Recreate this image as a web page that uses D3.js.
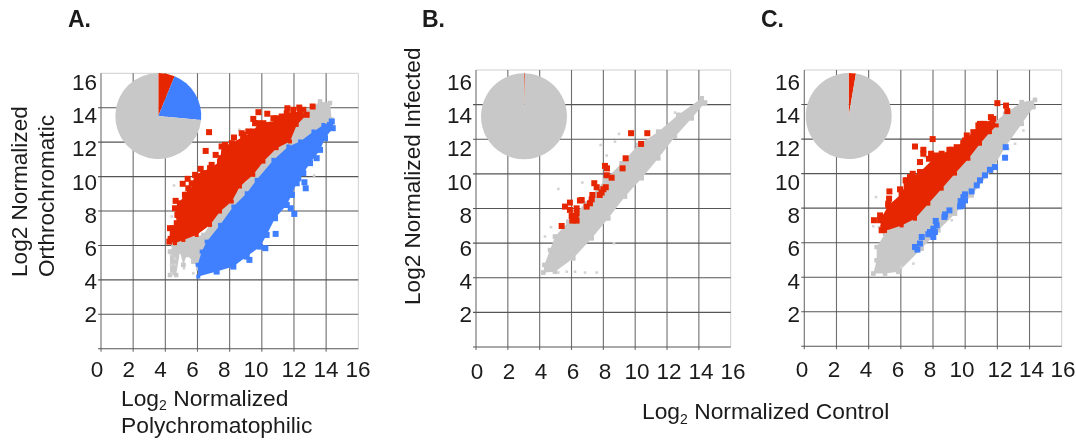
<!DOCTYPE html>
<html>
<head>
<meta charset="utf-8">
<script src="https://d3js.org/d3.v7.min.js"></script>
<style>
  html, body { margin: 0; padding: 0; background: #fff; }
  svg { display: block; }
  text { font-family: "Liberation Sans", Arial, sans-serif; fill: #1a1a1a; }
</style>
</head>
<body>
<svg width="1076" height="440"></svg>
<script>
var ticks = [0, 2, 4, 6, 8, 10, 12, 14, 16];
var yTickLabels = [2, 4, 6, 8, 10, 12, 14, 16];

// pie shares: red, blue, gray
var pieA = [6.2, 20.3, 73.5];
var pieB = [0.3, 0, 99.7];
var pieC = [2.7, 0, 97.3];

// outlines of the dense clouds as [x, y]
var grayCloudA = [[4.5,6.03],[5.12,6.42],[6.36,6.61],[7.4,8.16],[8.85,9.52],[9.89,10.58],[10.93,11.84],[11.96,13],[12.79,13.78],[13.62,14.36],[14.24,14.27],[14.35,13.3],[13.21,12.52],[12.38,11.84],[10.93,10.87],[9.47,8.84],[7.82,7.1],[6.36,5.64],[6.05,4.67],[5.74,5.06],[5.33,5.45],[5.12,4.87],[4.91,5.64],[4.67,4.28],[4.29,4.28],[4.29,5.64]];
var redCloudA = [[4.25,6.22],[4.29,7],[4.71,7.29],[4.6,8.16],[5.22,8.94],[5.53,9.13],[5.85,10.1],[6.78,10.49],[7.4,10.87],[7.5,11.75],[8.13,11.94],[8.85,12.33],[9.47,12.62],[9.78,13.1],[10.92,13.24],[11.55,13.68],[12.38,13.78],[12.79,13.59],[12.17,13],[11.75,12.04],[10.92,11.65],[10.1,10.87],[9.47,10.1],[8.64,9.42],[8.13,8.55],[7.4,7.97],[6.78,7.19],[5.95,6.61],[5.12,6.32],[4.6,6.13]];
var blueCloudA = [[6.05,4.19],[6.01,4.87],[6.26,5.64],[6.57,6.22],[7.4,7.19],[8.23,8.26],[9.06,9.03],[9.68,9.81],[10.72,10.97],[11.65,11.75],[12.38,12.04],[13.21,12.62],[13.83,13],[14.35,13.2],[14.41,12.81],[13.93,12.23],[13.62,11.55],[13,10.78],[12.58,10.2],[12.17,9.61],[11.86,8.94],[11.55,8.35],[10.82,7.58],[10.3,6.61],[9.89,5.93],[9.06,5.35],[8.23,4.77],[7.19,4.48]];
var grayCloudB = [[4.23,4.3],[4.29,4.74],[4.65,5.6],[4.96,6.38],[5.8,7.24],[6.85,8.3],[8.1,9.65],[9.15,10.61],[10.2,11.67],[11.45,12.44],[12.71,13.41],[14.18,14.37],[14.39,14.12],[13.55,13.21],[12.5,12.15],[11.45,10.9],[10.41,9.75],[9.36,8.69],[8.31,7.43],[7.27,6.28],[6.11,5.12],[4.96,4.35]];
var grayCloudC = [[4.29,4.21],[4.5,4.98],[4.5,5.75],[5.02,6.52],[5.85,7.49],[7.5,8.45],[8.75,9.61],[9.99,10.96],[11.44,12.69],[12.48,13.46],[13.51,14.14],[14.34,14.27],[14.24,13.85],[13.51,12.88],[12.48,11.53],[11.65,10.19],[10.4,8.74],[9.37,7.68],[8.33,6.72],[7.3,5.66],[5.85,4.31],[5.02,4.21]];
var redCloudC = [[4.81,6.72],[4.71,7.3],[5.22,8.16],[6.05,8.84],[6.36,9.61],[7.19,10.09],[8.23,11.05],[9.16,11.38],[9.99,11.92],[10.82,12.79],[11.75,13.17],[11.96,12.79],[11.54,12.4],[10.92,11.73],[10.2,10.86],[9.37,10],[8.54,9.13],[7.71,8.26],[6.88,7.39],[6.05,7],[5.02,6.68]];

// separate genes outside the clouds
var redPointsA = [[6.72,12.58],[6.51,11.49],[6.2,10.45],[7.13,11.26],[7.46,11.07],[6.88,10.68],[8.27,12.27],[9.79,13.74],[10.34,13.65],[9.47,13.35],[11.59,13.97],[12.33,14.01],[13.16,14.07],[5.39,9.87],[5.08,9.58],[5.64,9.61],[4.64,8.59],[5.33,8.94],[4.75,7.77],[4.46,7],[4.33,6.38],[9.58,13.1],[9.89,13],[11.96,13.88],[6.36,9.52],[5.95,10],[7.71,11.65],[8.85,12.42],[10.93,13.39],[8.75,12.52],[9.16,12.62],[10.1,13.1],[10.72,13.39],[11.24,13.49],[11.96,13.59],[12.58,13.88],[7.71,11.84],[6.36,10.2],[5.43,9.32],[4.91,8.45],[4.5,6.9]];
var bluePointsA = [[10.86,6.67],[10.22,5.84],[12.02,7.83],[11.8,8.16],[12.65,9.67],[12.73,9.32],[9.23,5.16],[13.41,11.07],[13.83,12.33],[14.24,13],[11.86,8.94],[12.27,9.9]];
var grayPointsA = [[4.35,5.45],[4.35,4.87],[4.4,4.38],[4.6,4.87],[4.6,5.25],[5.16,4.67],[5.74,4.38],[4.54,9.48],[8.6,12.72],[9.1,12.72],[13.25,10.06],[4.4,7.68],[11.65,9.03]];
var redPointsB = [[9.74,12.35],[10.76,12.35],[10.37,11.73],[9.4,10.9],[9.21,10.32],[8.1,10.46],[8.23,10.32],[8.21,9.92],[8.52,9.78],[7.43,9.46],[7.58,9.23],[8.15,9.23],[8,9.11],[7.89,8.92],[7.77,8.78],[7.31,8.78],[7.27,8.53],[7.16,8.3],[6.95,8.11],[6.53,8.46],[6.64,8.49],[5.9,8.34],[5.59,8.11],[5.9,7.92],[6.32,8.01],[6.32,7.72],[6.01,7.57],[6.26,7.43],[6.05,7.3],[6.32,7.3],[5.38,6.99]];
var grayPointsB = [[5.17,9.13],[6.68,9.5],[7.83,11.67],[8.21,11.06],[8.73,11.86],[8.98,12.31],[4.33,6.38],[4.71,6.92],[7.58,4.3],[6.85,4.3],[6.22,4.35],[5.7,4.35],[5.17,4.3],[8.67,5.99],[12.5,13.54]];
var redPointsC = [[12,14.08],[12.54,13.94],[12.62,13.62],[7.98,12],[6.88,11.57],[7.4,11.38],[7.4,11.15],[7.88,11.15],[7.75,10.86],[7.19,10.67],[7.71,10.19],[6.74,9.99],[7.19,9.99],[6.3,9.61],[6.36,9.32],[5.29,8.97],[5.27,8.55],[5.22,8.26],[5.95,9.09],[5.53,8],[4.33,7.3],[4.71,7.58],[4.91,6.87],[9.02,11.38],[9.88,11.77],[10.92,12.88],[11.6,13.27],[6.57,9.8],[7.92,10.96],[8.54,11.15],[9.47,11.53],[10.1,12.21],[10.51,12.4],[11.19,12.88],[5.64,8.07],[5.12,7.2]];
var bluePointsC = [[12.52,11.53],[12.48,10.92],[11.85,10.38],[11.54,10.22],[11.23,9.9],[10.92,9.61],[10.72,9.32],[10.4,8.97],[9.99,8.8],[9.89,8.64],[9.72,8.41],[9.99,8.45],[9.68,8.1],[9.82,8.16],[9.02,7.87],[8.71,7.49],[8.75,7.64],[8.17,7.26],[8.23,7],[8.02,6.81],[8.12,6.62],[7.81,6.62],[8.02,6.33],[7.3,6.33],[7.71,6.49],[7.19,5.95],[6.88,5.75],[7.03,5.6]];
var grayPointsC = [[4.46,8.64],[4.64,6.91],[12.68,11.44],[13.1,11.73],[13.62,12.5],[9.16,7.3],[6.78,4.79],[6.05,4.6],[4.29,6.95],[7.5,10.96],[8.64,10.96]];

var RED = "#e62800", BLUE = "#3f80ff", GRAY = "#c8c8c8";

var svg = d3.select("svg");

svg.append("defs").append("filter")
    .attr("id", "soft")
    .attr("x", 0).attr("y", 0).attr("width", 1).attr("height", 1)
    .attr("filterUnits", "objectBoundingBox")
  .append("feGaussianBlur")
    .attr("stdDeviation", 0.5);

var root = svg.append("g").attr("filter", "url(#soft)");
root.append("rect").attr("width", 1076).attr("height", 440).attr("fill", "#fff");

drawPanel({
  name: "A.", nameX: 68,
  x: [101, 358.3], y: [348.7, 73.3],
  xLabelDomain: [0, 10, 12, 16], xLabelRange: [97, 256, 294, 358], xLabelY: 377,
  yLabelX: 97,
  pie: pieA, pieCenter: [158.3, 116],
  grayCloud: grayCloudA, redCloud: redCloudA, blueCloud: blueCloudA,
  redEdge: [0, 18], blueEdge: [13, 28],
  grayPoints: grayPointsA, redPoints: redPointsA, bluePoints: bluePointsA
});

drawPanel({
  name: "B.", nameX: 422,
  x: [476, 730.7], y: [347, 70],
  xLabelDomain: [0, 16], xLabelRange: [477, 733], xLabelY: 379,
  yLabelX: 472,
  pie: pieB, pieCenter: [524, 116.3],
  grayCloud: grayCloudB, redCloud: [], blueCloud: [],
  redEdge: [0, 0], blueEdge: [0, 0],
  grayPoints: grayPointsB, redPoints: redPointsB, bluePoints: []
});

drawPanel({
  name: "C.", nameX: 761,
  x: [804.3, 1061.7], y: [346.3, 70],
  xLabelDomain: [0, 10, 12, 16], xLabelRange: [802, 962, 1000, 1063], xLabelY: 377,
  yLabelX: 800,
  pie: pieC, pieCenter: [848.7, 116],
  grayCloud: grayCloudC, redCloud: redCloudC, blueCloud: [],
  redEdge: [0, 11], blueEdge: [0, 0],
  grayPoints: grayPointsC, redPoints: redPointsC, bluePoints: bluePointsC
});

// axis titles
verticalTitle("Log2 Normalized", 27, 277);
verticalTitle("Orthrochromatic", 54, 277);
verticalTitle("Log2 Normalized Infected", 420, 305);
logTitle(121, 405.5);
root.append("text").attr("x", 121).attr("y", 433).attr("font-size", 22.8).text("Polychromatophilic");
logTitle(642, 419, " Normalized Control");

function verticalTitle(label, x, y) {
  root.append("text")
    .attr("transform", "translate(" + x + "," + y + ") rotate(-90)")
    .attr("font-size", 22.6)
    .text(label);
}

function logTitle(x, y, rest) {
  var t = root.append("text").attr("x", x).attr("y", y).attr("font-size", 22.8);
  t.append("tspan").text("Log");
  t.append("tspan").attr("dy", 4.5).attr("font-size", 14).text("2");
  t.append("tspan").attr("dy", -4.5).text(rest || " Normalized");
}

function drawPanel(p) {
  var x = d3.scaleLinear().domain([0, 16]).range(p.x),
      y = d3.scaleLinear().domain([0, 16]).range(p.y);
  var g = root.append("g");

  // frame, top and right edges are pale
  g.append("path")
    .attr("d", "M" + x(0) + "," + y(16) + "H" + x(16) + "V" + y(0))
    .attr("fill", "none").attr("stroke", "#cfcfcf").attr("stroke-width", 1);

  g.selectAll(".vgrid")
    .data(ticks.slice(0, 8))
    .enter().append("line")
      .attr("x1", d => x(d)).attr("x2", d => x(d))
      .attr("y1", y(16)).attr("y2", y(0) + 3)
      .attr("stroke", "#6e6e6e").attr("stroke-width", 1.1);

  g.selectAll(".hgrid")
    .data(ticks.slice(0, 8))
    .enter().append("line")
      .attr("x1", x(0) - 3).attr("x2", x(16))
      .attr("y1", d => y(d)).attr("y2", d => y(d))
      .attr("stroke", "#555").attr("stroke-width", 1.1);

  var line = d3.line().x(d => x(d[0])).y(d => y(d[1]));

  cloud(g, p.grayCloud, GRAY, line, x, y, [0, p.grayCloud.length], 4.5);
  dots(g, p.grayPoints, "#d4d4d4", x, y, 2.6);
  cloud(g, p.redCloud, RED, line, x, y, p.redEdge, 6);
  cloud(g, p.blueCloud, BLUE, line, x, y, p.blueEdge, 6);
  dots(g, p.redPoints, RED, x, y, 6);
  dots(g, p.bluePoints, BLUE, x, y, 6);

  var pie = d3.pie().sort(null)(p.pie);
  var arc = d3.arc().innerRadius(0).outerRadius(43);
  g.append("g")
    .attr("transform", "translate(" + p.pieCenter + ")")
    .selectAll("path")
    .data(pie)
    .enter().append("path")
      .attr("d", arc)
      .attr("fill", (d, i) => [RED, BLUE, GRAY][i]);

  // tick labels
  var xl = d3.scaleLinear().domain(p.xLabelDomain).range(p.xLabelRange);
  g.selectAll(".xl")
    .data(ticks)
    .enter().append("text")
      .attr("x", d => xl(d)).attr("y", p.xLabelY)
      .attr("text-anchor", "middle").attr("font-size", 22.5)
      .text(d => d);

  var yl = d3.scaleLinear().domain([2, 16]).range([314, 82]);
  g.selectAll(".yl")
    .data(yTickLabels)
    .enter().append("text")
      .attr("x", p.yLabelX).attr("y", d => yl(d))
      .attr("dy", "0.36em")
      .attr("text-anchor", "end").attr("font-size", 22.5)
      .text(d => d);

  g.append("text")
    .attr("x", p.nameX).attr("y", 27)
    .attr("font-size", 23).attr("font-weight", "bold")
    .text(p.name);
}

function cloud(g, pts, color, line, x, y, edge, size) {
  if (!pts.length) return;
  g.append("path")
    .attr("d", line(pts) + "Z")
    .attr("fill", color);
  // small squares all round, the full size ones only on the outer side
  dots(g, pts, color, x, y, 4);
  dots(g, pts.slice(edge[0], edge[1]), color, x, y, size);
}

function dots(g, pts, color, x, y, size) {
  g.append("g").selectAll("rect")
    .data(pts)
    .enter().append("rect")
      .attr("x", d => x(d[0]) - size / 2)
      .attr("y", d => y(d[1]) - size / 2)
      .attr("width", size).attr("height", size)
      .attr("fill", color);
}
</script>
</body>
</html>
